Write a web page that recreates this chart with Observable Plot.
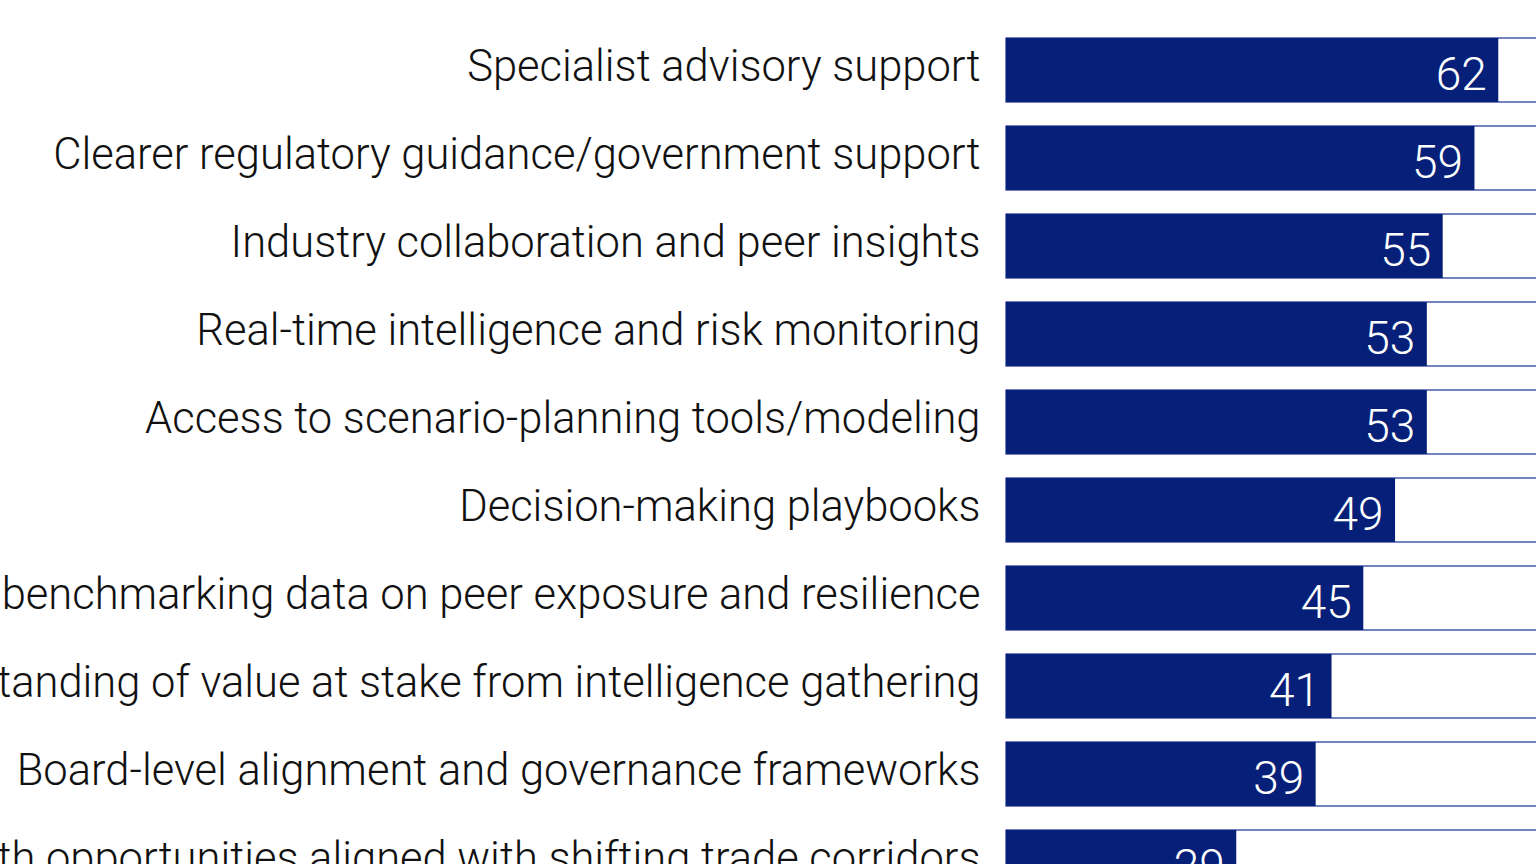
<!DOCTYPE html>
<html>
<head>
<meta charset="utf-8">
<script src="https://cdn.jsdelivr.net/npm/d3@7"></script>
<script src="https://cdn.jsdelivr.net/npm/@observablehq/plot@0.6"></script>
<style>
  html, body { margin: 0; padding: 0; background: #fff; overflow: hidden; }
  #chart svg { display: block; max-width: none; }
</style>
</head>
<body>
<div id="chart"></div>
<script>
const categories = [
  "Specialist advisory support",
  "Clearer regulatory guidance/government support",
  "Industry collaboration and peer insights",
  "Real-time intelligence and risk monitoring",
  "Access to scenario-planning tools/modeling",
  "Decision-making playbooks",
  "Competitive benchmarking data on peer exposure and resilience",
  "Better understanding of value at stake from intelligence gathering",
  "Board-level alignment and governance frameworks",
  "Identification of growth opportunities aligned with shifting trade corridors"
];
const values = [62, 59, 55, 53, 53, 49, 45, 41, 39, 29];
const fullScale = 100;

const data = categories.map((c, i) => ({category: c, value: values[i], full: fullScale}));

const navy = "#061f78";
const font = "Roboto, 'Liberation Sans', sans-serif";

const chart = Plot.plot({
  width: 1536,
  height: 864,
  margin: 0,
  x: {domain: [0, 100], range: [1006, 1800], axis: null},
  y: {domain: categories, range: [26, 906], paddingInner: 24 / 88, paddingOuter: 12 / 88, axis: null},
  style: {fontFamily: font, background: "#fff"},
  marks: [
    Plot.barX(data, {x1: 0, x2: "full", y: "category", fill: "none", stroke: "#2a40a0", strokeWidth: 1.3}),
    Plot.barX(data, {x1: 0, x2: "value", y: "category", fill: navy}),
    Plot.text(data, {x: 0, y: "category", text: "category", textAnchor: "end", dx: -26, dy: -3,
      fontSize: 43.5, fontWeight: 300, fill: "#111"}),
    Plot.text(data, {x: "value", y: "category", text: d => String(d.value), textAnchor: "end", dx: -12, dy: 5,
      fontSize: 46, fontWeight: 300, fill: "#fff"})
  ]
});
document.getElementById("chart").appendChild(chart);
</script>
</body>
</html>
